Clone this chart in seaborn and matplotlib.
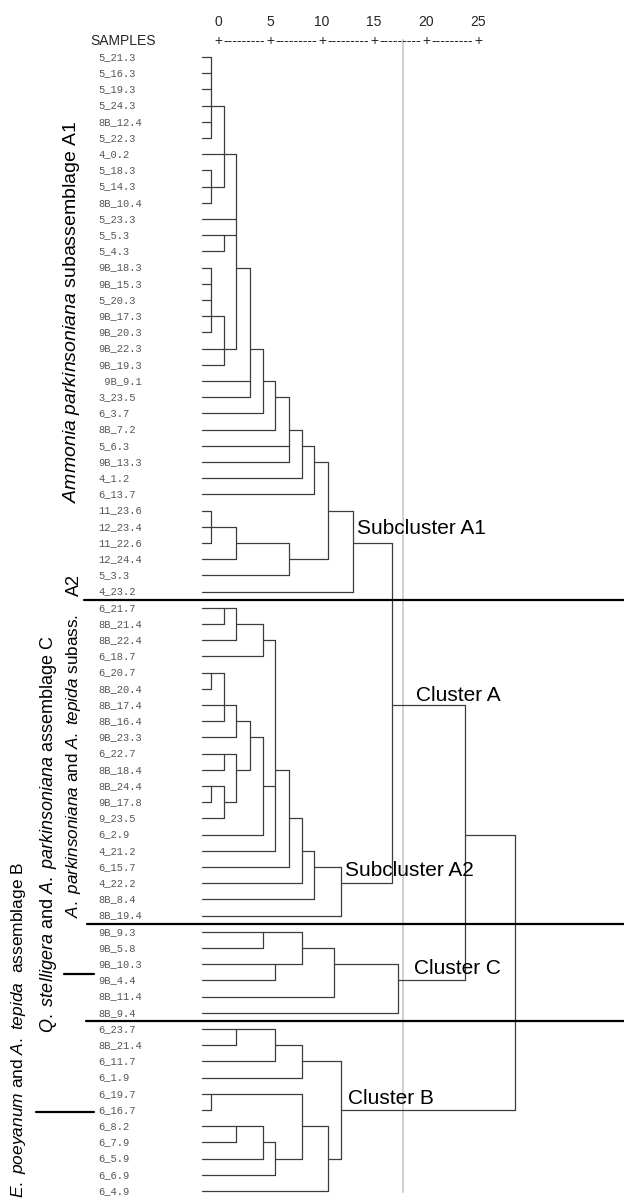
import matplotlib
matplotlib.use("Agg")
import matplotlib.pyplot as plt
import numpy as np
import pandas as pd
import seaborn as sns

# ---------------- data ----------------
samples = [
    "5_21.3", "5_16.3", "5_19.3", "5_24.3", "8B_12.4", "5_22.3", "4_0.2", "5_18.3",
    "5_14.3", "8B_10.4", "5_23.3", "5_5.3", "5_4.3", "9B_18.3", "9B_15.3", "5_20.3",
    "9B_17.3", "9B_20.3", "9B_22.3", "9B_19.3", " 9B_9.1", "3_23.5", "6_3.7", "8B_7.2",
    "5_6.3", "9B_13.3", "4_1.2", "6_13.7", "11_23.6", "12_23.4", "11_22.6", "12_24.4",
    "5_3.3", "4_23.2",
    "6_21.7", "8B_21.4", "8B_22.4", "6_18.7", "6_20.7", "8B_20.4", "8B_17.4", "8B_16.4",
    "9B_23.3", "6_22.7", "8B_18.4", "8B_24.4", "9B_17.8", "9_23.5", "6_2.9", "4_21.2",
    "6_15.7", "4_22.2", "8B_8.4", "8B_19.4",
    "9B_9.3", "9B_5.8", "9B_10.3", "9B_4.4", "8B_11.4", "8B_9.4",
    "6_23.7", "8B_21.4", "6_11.7", "6_1.9", "6_19.7", "6_16.7", "6_8.2", "6_7.9",
    "6_5.9", "6_6.9", "6_4.9",
]

# clusters: first leaf row, last leaf row (1-based, in drawing order),
# joining distance, and the row where the cluster's line leaves (SPSS layout)
node_first = [1, 8, 1, 12, 14, 14, 1, 1, 1, 1, 1, 1, 1, 29, 29, 29, 1, 1,
              35, 35, 35, 39, 39, 39, 44, 46, 46, 44, 39, 39, 35, 35, 35, 35, 35, 1,
              55, 57, 55, 55, 55, 1,
              61, 61, 61, 65, 67, 67, 67, 65, 65, 61, 1]
node_last = [6, 10, 10, 13, 18, 20, 20, 22, 23, 24, 26, 27, 28, 31, 32, 33, 33, 34,
             36, 37, 38, 40, 42, 43, 45, 47, 48, 48, 48, 49, 50, 51, 52, 53, 54, 54,
             56, 58, 58, 59, 60, 60,
             62, 63, 64, 66, 68, 69, 70, 70, 71, 71, 71]
node_height = [0.87, 0.87, 2.14, 2.14, 0.87, 2.14, 3.30, 4.62, 5.89, 7.05, 8.37, 9.64,
               10.80, 0.87, 3.30, 8.37, 12.09, 14.55,
               2.14, 3.30, 5.89, 0.87, 2.14, 3.30, 2.14, 0.87, 2.14, 3.30, 4.62, 5.89,
               7.05, 8.37, 9.64, 10.80, 13.37, 18.30,
               5.89, 7.05, 9.64, 12.72, 18.88, 25.26,
               3.30, 7.05, 9.64, 0.87, 3.30, 5.89, 7.05, 9.64, 12.09, 13.37, 30.13]
node_exit_row = [4, 9, 7, 12, 17, 19, 14, 19, 21, 22, 24, 25, 26, 30, 31, 32, 29, 31,
                 35, 36, 37, 39, 41, 42, 44, 46, 47, 45, 43, 46, 45, 48, 50, 51, 52, 41,
                 55, 57, 56, 57, 58, 49,
                 61, 62, 63, 65, 67, 68, 69, 67, 69, 66, 58]

header_ticks = [0, 5, 10, 15, 20, 25]
cut_level = 19.33

cluster_labels = ["Subcluster A1", "Cluster A", "Subcluster A2", "Cluster C", "Cluster B"]
group_labels = [
    r"$\mathit{Ammonia\ parkinsoniana}$ subassemblage A1",
    "A2",
    r"$\mathit{A.\ parkinsoniana}$ and $\mathit{A.\ tepida}$ subass.",
    r"$\mathit{Q.\ stelligera}$ and $\mathit{A.\ parkinsoniana}$ assemblage C",
    r"$\mathit{E.\ poeyanum}$ and $\mathit{A.\ tepida}$  assemblage B",
]

# ---------------- style ----------------
sns.set_theme(style="white")
plt.rcParams["font.family"] = ["Liberation Sans", "DejaVu Sans"]
plt.rcParams["mathtext.fontset"] = "custom"
plt.rcParams["mathtext.rm"] = "Liberation Sans"
plt.rcParams["mathtext.it"] = "Liberation Sans:italic"

W, H = 624, 1202
fig = plt.figure(figsize=(W / 100, H / 100), dpi=100)
ax = fig.add_axes([0, 0, 1, 1])

PX0, PXU = 202.0, 10.4     # pixel of distance 0, pixels per unit
PY0, PYU = 57.0, 16.2      # pixel of row 1, pixels per row


def X(px):
    return (px - PX0) / PXU


def Y(py):
    return 1 + (py - PY0) / PYU


HEADER_SHIFT = X(218)

# ---------------- dendrogram segments ----------------
n_nodes = len(node_first)


def children(k):
    f, l = node_first[k], node_last[k]
    out, i = [], f
    while i <= l:
        best = None
        for j in range(n_nodes):
            if j == k or node_first[j] != i or node_last[j] > l:
                continue
            if node_first[j] == f and node_last[j] == l:
                continue
            if best is None or node_last[j] > node_last[best]:
                best = j
        if best is None:
            out.append(("leaf", i))
            i += 1
        else:
            out.append(("node", best))
            i = node_last[best] + 1
    return out


rows = []
seg = 0
for k in range(n_nodes):
    h = node_height[k]
    ys = []
    for kind, c in children(k):
        if kind == "leaf":
            x0, y = 0.0, c
        else:
            x0, y = node_height[c], node_exit_row[c]
        ys.append(y)
        rows += [(seg, x0, y), (seg, h, y)]
        seg += 1
    rows += [(seg, h, min(ys)), (seg, h, max(ys))]
    seg += 1

segs = pd.DataFrame(rows, columns=["seg", "x", "y"])
sns.lineplot(data=segs, x="x", y="y", units="seg", estimator=None, sort=False,
             color="#3d3d3d", linewidth=0.9, legend=False, ax=ax)

# cut line
ax.plot([cut_level, cut_level], [Y(40), Y(1192)], color="#cfcfcf", lw=1.4, zorder=0)

# leaf labels
for r, s in enumerate(samples, start=1):
    ax.text(X(98), r, s, family="Liberation Mono", fontsize=7.5, color="#555555",
            ha="left", va="center")

# header scale
for v in header_ticks:
    ax.text(v + HEADER_SHIFT, Y(22), str(v), ha="center", va="center", fontsize=10)
    ax.text(v + HEADER_SHIFT, Y(41), "+", ha="center", va="center", fontsize=10)
for a, b in zip(header_ticks[:-1], header_ticks[1:]):
    ax.text((a + b) / 2 + HEADER_SHIFT, Y(41), "-" * 9, ha="center", va="center",
            fontsize=10)
ax.text(X(90), Y(41), "SAMPLES", ha="left", va="center", fontsize=10)

# separators
for yr, xl in [(34.5, 84), (54.5, 87), (60.5, 86)]:
    ax.plot([X(xl), X(624)], [yr, yr], color="black", lw=1.6)
for py, xl in [(974, 64), (1112, 36)]:
    ax.plot([X(xl), X(94)], [Y(py), Y(py)], color="black", lw=1.6)

# cluster labels
cl_pos = [(357, 528), (416, 696), (345, 871), (414, 968), (348, 1098)]
for txt, (px, py) in zip(cluster_labels, cl_pos):
    ax.text(X(px), Y(py), txt, ha="left", va="center", fontsize=15, color="black")

# rotated group labels
gl_pos = [(72, 503, "bottom", 14), (74, 585, "center", 13), (74, 918, "bottom", 12.3),
          (49, 1033, "bottom", 13), (19, 1198, "bottom", 12.5)]
for txt, (px, py, va, fs) in zip(group_labels, gl_pos):
    ax.text(X(px), Y(py), txt, rotation=90, ha="center", va=va, fontsize=fs,
            color="black")

ax.set_xlim(X(0), X(W))
ax.set_ylim(Y(H), Y(0))
ax.axis("off")
fig.savefig("out.png", dpi=100)
